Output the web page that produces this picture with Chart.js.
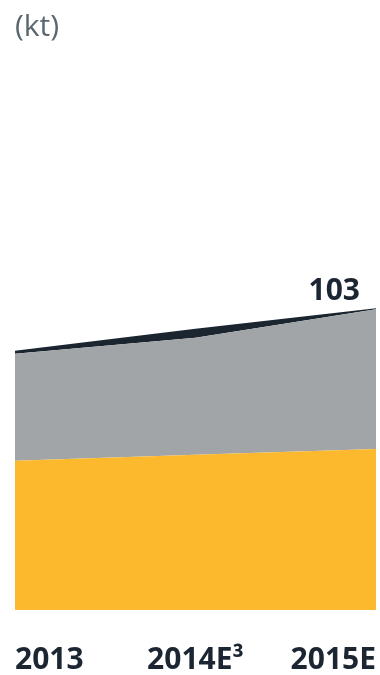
<!DOCTYPE html>
<html>
<head>
<meta charset="utf-8">
<script src="https://cdn.jsdelivr.net/npm/chart.js@4"></script>
<style>
  html, body { margin: 0; padding: 0; background: #ffffff; }
  #wrap { width: 380px; height: 675px; }
</style>
</head>
<body>
<div id="wrap"><canvas id="volumeChart"></canvas></div>
<script>
// volumes in kt, stacked
const years = ["2013", "2014E³", "2015E"];
const baseVolume = [51, 53, 55];
const midVolume = [36.5, 40, 47.7];
const topVolume = [1, 3, 0.3];
const yMax = 126;

// total label above the last point of the stack
const totalLabel = {
    id: "totalLabel",
    afterDatasetsDraw(chart) {
        const ctx = chart.ctx;
        const last = years.length - 1;
        const pt = chart.getDatasetMeta(2).data[last];
        const total = baseVolume[last] + midVolume[last] + topVolume[last];
        ctx.save();
        ctx.font = "bold 30px 'Open Sans'";
        ctx.fillStyle = "#1c2633";
        ctx.textAlign = "right";
        ctx.textBaseline = "alphabetic";
        ctx.fillText(Math.round(total).toString(), pt.x - 16, pt.y - 8);
        ctx.restore();
    }
};

new Chart(document.getElementById("volumeChart"), {
    type: "line",
    data: {
        labels: years,
        datasets: [
            {
                data: baseVolume,
                backgroundColor: "#fcb92e",
                borderColor: "transparent",
                fill: "origin",
                pointRadius: 0,
                tension: 0
            },
            {
                data: midVolume,
                backgroundColor: "#a2a5a8",
                borderColor: "transparent",
                fill: "-1",
                pointRadius: 0,
                tension: 0
            },
            {
                data: topVolume,
                backgroundColor: "#1b2530",
                borderColor: "transparent",
                fill: "-1",
                pointRadius: 0,
                tension: 0
            }
        ]
    },
    options: {
        responsive: true,
        maintainAspectRatio: false,
        animation: false,
        layout: { padding: { left: 15, right: 4, top: 0, bottom: 0 } },
        plugins: {
            legend: { display: false },
            tooltip: { enabled: false },
            title: {
                display: true,
                text: "(kt)",
                align: "start",
                color: "#5b6770",
                font: { family: "'Open Sans'", size: 30, weight: "normal" },
                padding: { top: 9, bottom: 196 }
            }
        },
        scales: {
            x: {
                offset: false,
                grid: { display: false, drawTicks: false },
                border: { display: false },
                ticks: {
                    align: "inner",
                    color: "#1c2633",
                    padding: 32,
                    maxRotation: 0,
                    font: { family: "'Open Sans'", size: 30, weight: "bold" }
                },
                // labels sit flush with the plot edges, axis band fixed height
                afterFit(scale) {
                    scale.paddingLeft = 0;
                    scale.paddingRight = 0;
                    scale.height = 65;
                }
            },
            y: {
                display: false,
                stacked: true,
                min: 0,
                max: yMax
            }
        }
    },
    plugins: [totalLabel]
});
</script>
</body>
</html>
